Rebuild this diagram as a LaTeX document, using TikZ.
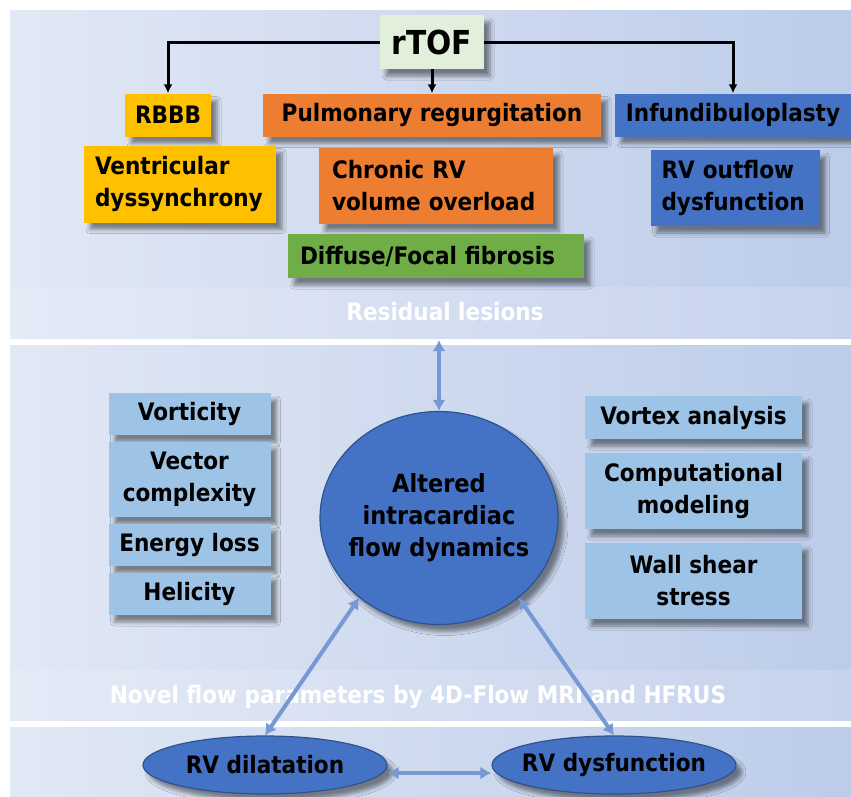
\documentclass[tikz,border=0pt]{standalone}
\usepackage{fontspec}
\setmainfont{DejaVu Sans Condensed}
\usetikzlibrary{arrows.meta,shapes.geometric,shadows.blur}
\definecolor{panL}{RGB}{225,232,245}
\definecolor{panR}{RGB}{188,204,233}
\definecolor{bandL}{RGB}{228,234,246}
\definecolor{bandR}{RGB}{198,211,237}
\definecolor{gold}{RGB}{255,192,0}
\definecolor{orng}{RGB}{237,125,49}
\definecolor{grn}{RGB}{112,173,71}
\definecolor{blu}{RGB}{68,114,196}
\definecolor{lblu}{RGB}{157,195,230}
\definecolor{mint}{RGB}{226,239,218}
\definecolor{arrc}{RGB}{118,152,212}
\definecolor{cedge}{RGB}{47,82,143}
\begin{document}
\begin{tikzpicture}[x=1pt,y=-1pt,
  shad/.style={blur shadow={shadow xshift=6pt,shadow yshift=-7pt,shadow opacity=45,shadow blur radius=4pt}},
  box/.style={rectangle,inner sep=0pt,shad,font=\bfseries\fontsize{24}{28}\selectfont,align=center},
  lbox/.style={rectangle,inner ysep=0pt,shad,font=\bfseries\fontsize{24}{32}\selectfont,align=left},
  mbox/.style={rectangle,inner sep=0pt,shad,fill=lblu,minimum width=162,font=\bfseries\fontsize{24}{32}\selectfont,align=center},
  rbox/.style={rectangle,inner sep=0pt,shad,fill=lblu,minimum width=217,font=\bfseries\fontsize{24}{32}\selectfont,align=center},
  oval/.style={ellipse,inner sep=-14pt,shad,fill=blu,draw=cedge,line width=1.2pt},
  tconn/.style={draw=black,line width=3pt,-{Latex[length=9pt,width=9pt]}},
  marr/.style={draw=arrc,line width=4pt,{Latex[length=11pt,width=13pt]}-{Latex[length=11pt,width=13pt]}},
  bandtxt/.style={text=white,font=\bfseries\fontsize{24}{28}\selectfont}]
\useasboundingbox (0,0) rectangle (851,796);
\fill[white] (0,0) rectangle (851,796);
% panels
\fill[left color=panL,right color=panR] (10,10) rectangle (851,338);
\fill[left color=bandL,right color=bandR] (10,287) rectangle (851,338);
\fill[left color=panL,right color=panR] (10,345) rectangle (851,720);
\fill[left color=bandL,right color=bandR] (10,670) rectangle (851,720);
\fill[left color=panL,right color=panR] (10,727) rectangle (851,796);
% top section
\node[box,fill=mint,minimum width=104,minimum height=54,font=\bfseries\fontsize{33}{38}\selectfont] (rtof) at (432,42) {rTOF};
\node[box,fill=gold,minimum width=86,minimum height=43] (rbbb) at (168,115) {RBBB};
\node[box,fill=orng,minimum width=338,minimum height=43] (pr) at (432,115) {Pulmonary regurgitation};
\node[box,fill=blu,minimum width=236,minimum height=43] (inf) at (733,115) {Infundibuloplasty};
\node[lbox,fill=gold,inner xsep=11pt,text width=170,minimum height=77] (vd) at (180,184) {Ventricular\\dyssynchrony};
\node[lbox,fill=orng,inner xsep=13pt,text width=208,minimum height=76] (crv) at (436,186) {Chronic RV\\volume overload};
\node[lbox,fill=grn,inner xsep=12pt,text width=272,minimum height=44] (dff) at (436,256) {Diffuse/Focal fibrosis};
\node[lbox,fill=blu,inner xsep=11pt,text width=147,minimum height=76] (rvo) at (735,188) {RV outflow\\dysfunction};
\draw[tconn] (rtof.west) -| (rbbb.north);
\draw[tconn] (rtof.east) -| (inf.north);
\draw[tconn] (rtof.south) -- (pr.north);
\node[bandtxt] (res) at (445,312) {Residual lesions};
% middle section
\node[mbox,minimum height=42] (vort) at (189.5,414) {Vorticity};
\node[mbox,minimum height=75] (vc) at (189.5,479.5) {Vector\\complexity};
\node[mbox,minimum height=42] (el) at (189.5,545) {Energy loss};
\node[mbox,minimum height=42] (hel) at (189.5,594) {Helicity};
\node[rbox,minimum height=43] (va) at (693.5,417.5) {Vortex analysis};
\node[rbox,minimum height=76] (cm) at (693.5,491) {Computational\\modeling};
\node[rbox,minimum height=76] (wss) at (693.5,581) {Wall shear\\stress};
\node[oval,inner sep=-30pt,minimum width=238,minimum height=213,align=center,font=\bfseries\fontsize{25}{32}\selectfont] (circ) at (439,518) {Altered\\intracardiac\\flow dynamics};
\node[bandtxt] (novel) at (418,697) {Novel flow parameters by 4D-Flow MRI and HFRUS};
% bottom section
\node[oval,minimum width=244,minimum height=58,font=\bfseries\fontsize{24}{28}\selectfont] (rvdil) at (265,765) {RV dilatation};
\node[oval,minimum width=244,minimum height=58,font=\bfseries\fontsize{24}{28}\selectfont] (rvdys) at (614,765) {RV dysfunction};
% blue arrows
\coordinate (tp) at (439,340);
\draw[marr] (tp) -- (circ.north);
\draw[marr] (circ.225) -- (rvdil.north);
\draw[marr] (circ.-45) -- (rvdys.north);
\draw[marr] ([yshift=-8pt]rvdil.east) -- ([yshift=-8pt]rvdys.west);
\end{tikzpicture}
\end{document}
